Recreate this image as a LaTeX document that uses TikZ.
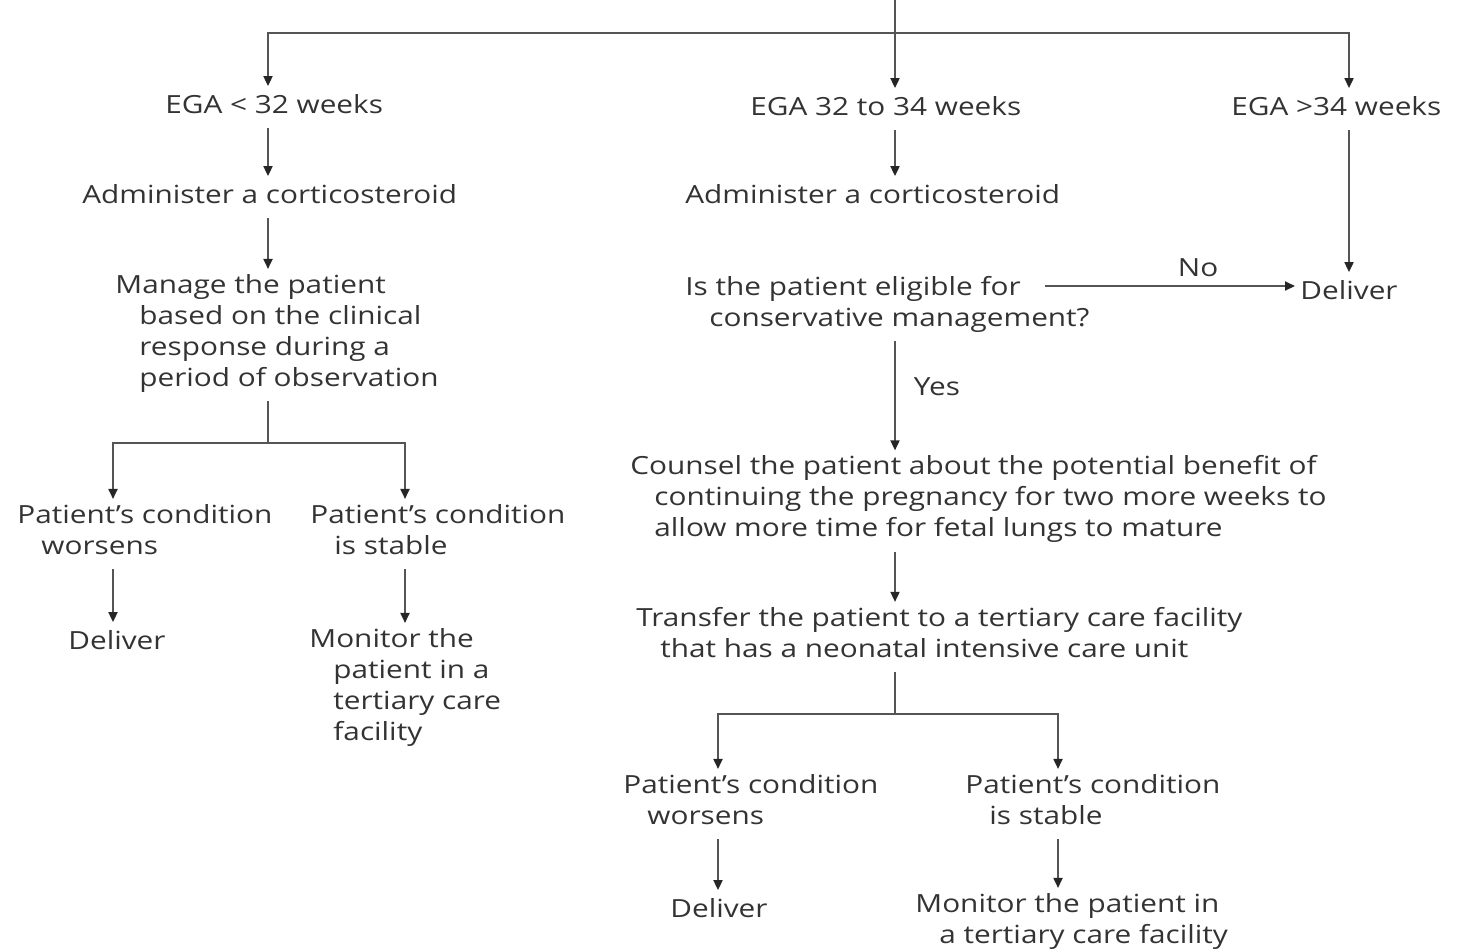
\documentclass[tikz,border=0pt]{standalone}
\usepackage{fontspec}
\setmainfont[FakeStretch=1.19]{Open Sans}
\usepackage{tikz}
\usetikzlibrary{arrows.meta,positioning,calc}
\definecolor{txtgray}{HTML}{333333}
\definecolor{lngray}{HTML}{555555}
\providecommand{\ind}{}
\renewcommand{\ind}{\hspace*{12pt}}

\begin{document}
\begin{tikzpicture}[
  x=0.5pt,y=-0.5pt,
  font=\fontsize{12.5}{15.5}\selectfont,
  txt/.style={anchor=west,align=left,inner sep=0pt,text=txtgray,
    execute at begin node=\strut,execute at end node=\strut},
  lbl/.style={inner sep=0pt,text=txtgray},
  ln/.style={draw=lngray,line width=0.9pt},
  ar/.style={ln,-{Triangle[length=5pt,width=4.5pt,color=black!85]},shorten >=2.5pt},
  arb/.style={ar,shorten <=2.5pt}]

\useasboundingbox (0,0) rectangle (1461,950);

% columns of the connectors
\coordinate (c1) at (268,0);
\coordinate (c2) at (895,0);
\coordinate (c3) at (1349,0);
\coordinate (c4) at (113,0);
\coordinate (c5) at (405,0);
\coordinate (c6) at (718,0);
\coordinate (c7) at (1058,0);
\coordinate (top)    at (895,0);
\coordinate (fork)   at (895,33);
\coordinate (split1) at (268,443);
\coordinate (split2) at (895,714);
\coordinate (noq)    at (1045,286);

% gestational age
\node[txt] (ega1) at (165,107)  {EGA < 32 weeks};
\node[txt] (ega2) at (750,109)  {EGA 32 to 34 weeks};
\node[txt] (ega3) at (1231,109) {EGA >34 weeks};

% left branch
\node[txt] (adm1) at (82,197)  {Administer a corticosteroid};
\node[txt] (man)  at (115,335) {Manage the patient\\\ind based on the clinical\\\ind response during a\\\ind period of observation};
\node[txt] (wor1) at (17,534)  {Patient’s condition\\\ind worsens};
\node[txt] (stb1) at (310,534) {Patient’s condition\\\ind is stable};
\node[txt] (del1) at (68,643)  {Deliver};
\node[txt] (mon1) at (309,689) {Monitor the\\\ind patient in a\\\ind tertiary care\\\ind facility};

% middle branch
\node[txt] (adm2)  at (685,197)  {Administer a corticosteroid};
\node[txt] (elig)  at (685,306)  {Is the patient eligible for\\\ind conservative management?};
\node[txt] (del3)  at (1300,293) {Deliver};
\node[txt] (cons)  at (630,501)  {Counsel the patient about the potential benefit of\\\ind continuing the pregnancy for two more weeks to\\\ind allow more time for fetal lungs to mature};
\node[txt] (trans) at (636,637)  {Transfer the patient to a tertiary care facility\\\ind that has a neonatal intensive care unit};
\node[txt] (wor2)  at (623,804)  {Patient’s condition\\\ind worsens};
\node[txt] (stb2)  at (965,804)  {Patient’s condition\\\ind is stable};
\node[txt] (del2)  at (670,911)  {Deliver};
\node[txt] (mon2)  at (915,923)  {Monitor the patient in\\\ind a tertiary care facility};

% top fork
\draw[ar] (top) -- (ega2.north -| c2);
\draw[ar] (fork) -| (ega1.north -| c1);
\draw[ar] (fork) -| (ega3.north -| c3);

\foreach \a/\b/\c in {ega1/adm1/c1, adm1/man/c1, ega2/adm2/c2, ega3/del3/c3,
  cons/trans/c2, wor1/del1/c4, stb1/mon1/c5, wor2/del2/c6, stb2/mon2/c7}
  \draw[arb] (\a.south -| \c) -- (\b.north -| \c);

% observation forks
\draw[ln,shorten <=2.5pt] (man.south -| c1) -- (split1);
\draw[ar] (split1) -| (wor1.north -| c4);
\draw[ar] (split1) -| (stb1.north -| c5);
\draw[ln,shorten <=2.5pt] (trans.south -| c2) -- (split2);
\draw[ar] (split2) -| (wor2.north -| c6);
\draw[ar] (split2) -| (stb2.north -| c7);

% eligibility
\draw[ar] (noq) -- (del3.west |- noq) node[lbl,pos=0.6,above=4pt] (no) {No};
\draw[arb] (elig.south -| c2) -- (cons.north -| c2) node[lbl,pos=0.42,right=9pt] (yes) {Yes};
\end{tikzpicture}
\end{document}
